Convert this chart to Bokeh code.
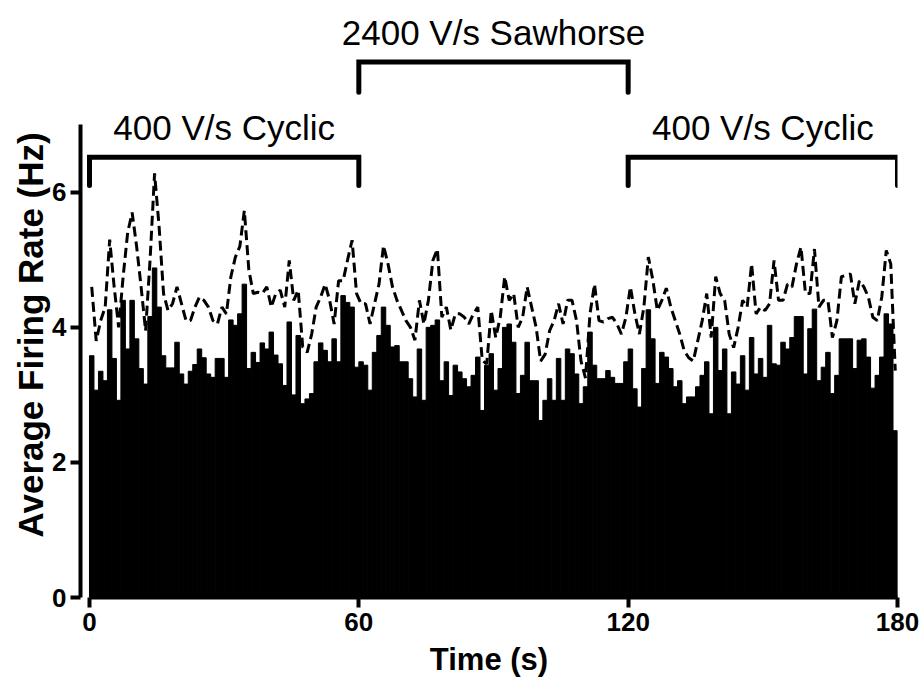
import math
from bokeh.plotting import figure
from bokeh.models import Range1d, FixedTicker, ColumnDataSource, Title
from bokeh.embed import file_html
from bokeh.resources import INLINE
from bokeh.core.properties import value

# ---- data (1 s bins, 0-180 s) ----
bin_start = list(range(180))

firing_rate = [
    3.58, 3.07, 3.35, 3.21, 4.26, 3.54, 2.92, 4.40, 3.68, 4.40,
    3.83, 3.39, 3.16, 4.16, 4.88, 4.30, 3.58, 3.40, 3.40, 3.78,
    3.31, 3.16, 3.35, 3.45, 3.68, 3.55, 3.31, 3.26, 3.54, 3.54,
    3.26, 4.11, 4.03, 4.20, 4.64, 3.39, 3.63, 3.48, 3.77, 3.68,
    3.93, 3.59, 3.46, 3.14, 4.08, 3.00, 3.88, 2.87, 2.94, 3.02,
    3.49, 3.77, 3.66, 3.49, 3.83, 3.49, 4.47, 4.37, 4.30, 3.41,
    3.49, 3.44, 3.07, 3.63, 3.88, 4.30, 4.03, 3.71, 3.73, 3.49,
    3.49, 3.24, 2.97, 3.68, 2.92, 4.00, 4.03, 4.11, 3.21, 3.49,
    2.99, 3.44, 3.34, 3.24, 3.12, 3.29, 3.56, 2.77, 3.44, 3.61,
    3.07, 3.39, 4.00, 4.05, 3.78, 3.02, 3.29, 3.78, 3.21, 3.21,
    2.62, 2.92, 3.24, 2.92, 3.54, 2.92, 3.68, 3.61, 3.31, 2.87,
    3.12, 3.93, 3.44, 3.24, 3.24, 3.36, 3.26, 3.17, 3.17, 3.49,
    3.68, 3.09, 2.82, 3.39, 4.26, 3.83, 3.17, 3.63, 3.56, 3.39,
    3.12, 3.21, 2.87, 2.97, 2.97, 3.12, 3.29, 3.49, 2.72, 4.00,
    3.36, 3.68, 2.72, 3.34, 3.16, 3.58, 3.07, 3.85, 3.31, 3.54,
    3.26, 4.03, 3.46, 3.44, 3.78, 3.68, 3.85, 4.16, 4.16, 3.31,
    3.98, 4.27, 3.21, 3.41, 3.63, 3.02, 3.29, 3.83, 3.83, 3.83,
    3.39, 3.81, 3.83, 3.56, 3.10, 3.29, 3.56, 4.20, 4.05, 2.47,
]

upper_rate = [
    4.60, 3.80, 4.10, 4.30, 5.30, 4.60, 4.00, 4.75, 5.40, 5.70,
    5.20, 4.60, 3.95, 5.00, 6.28, 5.50, 4.50, 4.25, 4.35, 4.60,
    4.35, 4.10, 4.10, 4.30, 4.45, 4.40, 4.30, 4.10, 4.05, 4.30,
    4.20, 4.75, 5.04, 5.20, 5.73, 4.85, 4.50, 4.52, 4.50, 4.60,
    4.30, 4.50, 4.55, 4.30, 4.99, 4.40, 4.55, 3.71, 3.63, 3.90,
    4.30, 4.45, 4.64, 4.40, 4.05, 4.69, 4.69, 5.00, 5.29, 4.50,
    4.35, 4.35, 4.05, 4.35, 4.64, 5.21, 4.94, 4.60, 4.40, 4.25,
    4.10, 4.00, 3.81, 4.40, 4.05, 4.40, 4.99, 5.16, 4.15, 4.30,
    3.96, 4.20, 4.20, 4.15, 4.05, 4.20, 4.30, 3.51, 3.46, 4.25,
    3.85, 4.15, 4.75, 4.40, 4.50, 4.00, 4.15, 4.60, 4.30, 4.00,
    3.50, 3.60, 3.95, 4.10, 4.35, 4.05, 4.40, 4.40, 4.10, 3.50,
    3.25, 4.20, 4.64, 4.10, 4.08, 4.13, 4.15, 4.05, 3.90, 4.15,
    4.60, 4.20, 3.90, 4.30, 5.04, 4.70, 4.25, 4.40, 4.58, 4.30,
    4.10, 3.90, 3.65, 3.55, 3.50, 3.80, 4.10, 4.50, 3.85, 4.75,
    4.50, 4.40, 3.90, 3.70, 4.00, 4.40, 4.30, 4.94, 4.20, 4.30,
    4.25, 4.35, 4.99, 4.40, 4.40, 4.64, 4.60, 4.94, 5.19, 4.50,
    4.50, 5.16, 4.30, 4.40, 4.40, 3.85, 4.10, 4.75, 4.77, 4.79,
    4.35, 4.69, 4.60, 4.45, 4.15, 4.10, 4.45, 5.14, 4.94, 3.36,
]

x_ticks = [0, 60, 120, 180]
y_ticks = [0, 2, 4, 6]

epoch_start = [0, 60, 120]
epoch_end = [60, 120, 180]
epoch_label = ["400 V/s Cyclic", "2400 V/s Sawhorse", "400 V/s Cyclic"]

# ---- layout constants (positions in data units) ----
bracket_top = [6.52, 7.93, 6.52]
bracket_leg = [0.42, 0.45, 0.42]
label_center = [6.96, 8.36, 6.96]

FONT = "Liberation Sans"

p = figure(width=921, height=687,
           x_range=Range1d(-2, 180), y_range=Range1d(0, 8.84),
           output_backend="svg", toolbar_location=None,
           min_border_left=80, min_border_right=24,
           min_border_top=0, min_border_bottom=90)

p.xgrid.visible = False
p.ygrid.visible = False
p.outline_line_color = None
p.background_fill_color = "white"
p.border_fill_color = "white"

# bars
src = ColumnDataSource(dict(
    left=bin_start,
    right=[b + 1 for b in bin_start],
    top=firing_rate,
    mid=[b + 0.5 for b in bin_start],
    upper=upper_rate,
))
p.quad(left="left", right="right", bottom=0, top="top", source=src,
       fill_color="black", line_color="black", line_width=1)

# dashed upper line
p.line(x="mid", y="upper", source=src, line_color="black",
       line_width=3, line_dash="10 5")

# brackets
xs, ys = [], []
for s, e, t, l in zip(epoch_start, epoch_end, bracket_top, bracket_leg):
    xs.append([s, s, e, e])
    ys.append([t - l, t, t, t - l])
p.multi_line(xs=xs, ys=ys, line_color="black", line_width=5,
             line_cap="round", line_join="miter")

lab_src = ColumnDataSource(dict(
    x=[(s + e) / 2 for s, e in zip(epoch_start, epoch_end)],
    y=label_center,
    text=epoch_label,
))
p.text(x="x", y="y", text="text", source=lab_src,
       text_font=value(FONT), text_font_size="35px",
       text_align="center", text_baseline="middle", text_color="black")

# axes
for ax in (p.xaxis[0], p.yaxis[0]):
    ax.axis_line_width = 4
    ax.axis_line_color = "black"
    ax.major_tick_line_width = 4
    ax.major_tick_line_color = "black"
    ax.major_tick_out = 10
    ax.major_tick_in = 0
    ax.minor_tick_line_color = None
    ax.major_label_text_font = FONT
    ax.major_label_text_font_style = "bold"
    ax.major_label_text_font_size = "26px"
    ax.major_label_text_color = "black"

p.xaxis.ticker = FixedTicker(ticks=x_ticks)
p.yaxis.ticker = FixedTicker(ticks=y_ticks)
p.xaxis.bounds = (0, 180)
p.yaxis.bounds = (0, 7)
p.xaxis.major_label_standoff = 5
p.yaxis.major_label_standoff = 4

p.xaxis.axis_label = "Time (s)"
p.xaxis.axis_label_text_font = FONT
p.xaxis.axis_label_text_font_style = "bold"
p.xaxis.axis_label_text_font_size = "31px"
p.xaxis.axis_label_text_color = "black"
p.xaxis.axis_label_standoff = 8

# y-axis title as a side title so it can sit off-centre like the original
ytitle = Title(text="Average Firing Rate (Hz)", align="left", offset=60,
               vertical_align="bottom", standoff=0,
               text_font=FONT, text_font_style="bold",
               text_font_size="35px", text_color="black")
p.add_layout(ytitle, "left")

open("out.html", "w").write(file_html(p, INLINE))
